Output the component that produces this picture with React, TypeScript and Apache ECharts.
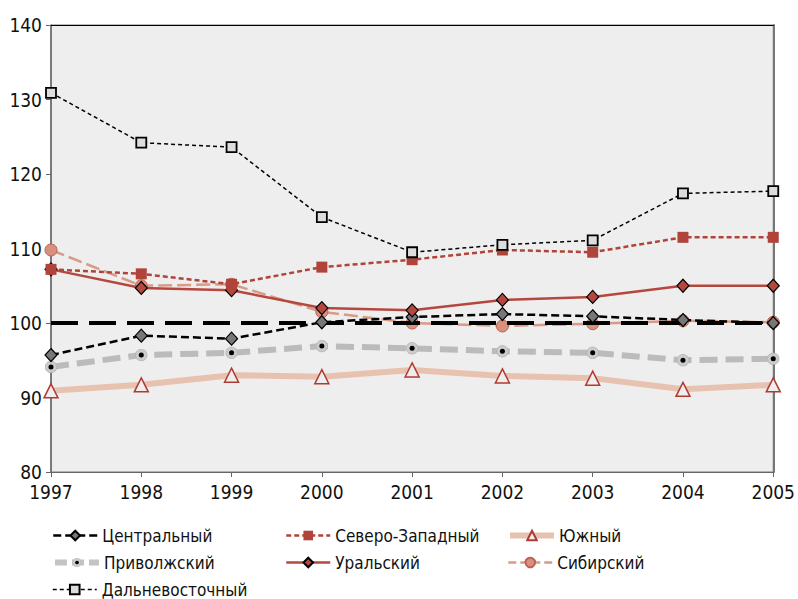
import React, { useEffect, useRef } from "react";
import * as echarts from "echarts";

const years = ["1997", "1998", "1999", "2000", "2001", "2002", "2003", "2004", "2005"];
const central = [95.7, 98.3, 97.9, 100.1, 100.8, 101.2, 100.9, 100.4, 100.0];
const northWest = [107.2, 106.6, 105.2, 107.5, 108.5, 109.8, 109.5, 111.5, 111.5];
const south = [90.9, 91.7, 93.0, 92.8, 93.7, 92.9, 92.6, 91.1, 91.7];
const volga = [94.1, 95.7, 96.0, 96.9, 96.6, 96.2, 96.0, 95.0, 95.2];
const ural = [107.2, 104.7, 104.4, 102.0, 101.7, 103.1, 103.5, 105.0, 105.0];
const siberia = [109.8, 105.0, 105.2, 101.5, 100.0, 99.6, 99.9, 100.3, 100.1];
const farEast = [130.9, 124.2, 123.6, 114.2, 109.5, 110.5, 111.1, 117.4, 117.7];
const referenceLevel = 100;

const FONT = "'Liberation Sans Narrow', 'DejaVu Sans Condensed', 'Roboto Condensed', sans-serif";

const volgaSymbol =
  "image://data:image/svg+xml;utf8," +
  encodeURIComponent(
    "<svg xmlns='http://www.w3.org/2000/svg' width='14' height='14'><circle cx='7' cy='7' r='6.3' fill='#cccccc' stroke='#b0b0b0' stroke-width='0.8'/><circle cx='7' cy='7' r='2.7' fill='#000'/></svg>"
  );

const styles: Record<string, any> = {
  "Центральный": { line: { color: "#000", width: 2.5, type: [8, 4] } },
  "Северо-Западный": { line: { color: "#b0443a", width: 2.5, type: [5, 3] } },
  "Южный": { line: { color: "#e8c2b0", width: 6, type: "solid" } },
  "Приволжский": { line: { color: "#c4c4c4", width: 6, type: [12, 5] } },
  "Уральский": { line: { color: "#b5483e", width: 2.5, type: "solid" } },
  "Сибирский": { line: { color: "#d99a88", width: 2.5, type: [8, 4] } },
  "Дальневосточный": { line: { color: "#000", width: 1.5, type: [4, 3] } },
};

// legend grid: [name, column, row]
const legendLayout: [string, number, number][] = [
  ["Центральный", 0, 0],
  ["Северо-Западный", 1, 0],
  ["Южный", 2, 0],
  ["Приволжский", 0, 1],
  ["Уральский", 1, 1],
  ["Сибирский", 2, 1],
  ["Дальневосточный", 0, 2],
];
const legendColumnsX = [52, 285, 507];
const legendRowsY = [537, 564, 591];

export default function App() {
  const ref = useRef<HTMLDivElement>(null);
  useEffect(() => {
    if (!ref.current) return;
    const chart = echarts.init(ref.current, null, { renderer: "svg" });
    const legendText = { fontFamily: FONT, fontSize: 17, color: "#111" };
    const legends = legendLayout.map(([name, c, r]) => ({
      orient: "horizontal",
      itemWidth: 44,
      itemHeight: 12,
      padding: 0,
      textStyle: legendText,
      left: legendColumnsX[c],
      top: legendRowsY[r] - 10,
      selectedMode: false,
      data: [{ name, lineStyle: styles[name].line }],
    }));
    chart.setOption({
      animation: false,
      textStyle: { fontFamily: FONT },
      grid: {
        left: 51,
        right: 19,
        top: 25,
        bottom: 127,
        show: true,
        backgroundColor: "#eeeeee",
        borderColor: "#777",
        borderWidth: 1,
      },
      legend: legends,
      xAxis: [
        {
          type: "category",
          data: years,
          boundaryGap: false,
          axisLine: { lineStyle: { color: "#666", width: 1 } },
          axisTick: { show: true, length: 5, lineStyle: { color: "#666" } },
          axisLabel: { fontFamily: FONT, fontSize: 19, color: "#111", margin: 10 },
          splitLine: { show: false },
        },
        {
          type: "category",
          data: years,
          boundaryGap: false,
          position: "top",
          axisLine: { lineStyle: { color: "#000", width: 1.2 } },
          axisTick: { show: false },
          axisLabel: { show: false },
        },
      ],
      yAxis: [
        {
          type: "value",
          min: 80,
          max: 140,
          interval: 10,
          axisLine: { show: true, lineStyle: { color: "#666", width: 1.5 } },
          axisTick: { show: true, length: 5, lineStyle: { color: "#666" } },
          axisLabel: { fontFamily: FONT, fontSize: 19, color: "#111", margin: 9 },
          splitLine: { show: false },
        },
        {
          type: "value",
          min: 80,
          max: 140,
          interval: 10,
          position: "right",
          axisLine: { show: true, lineStyle: { color: "#777", width: 2 } },
          axisTick: { show: false },
          axisLabel: { show: false },
          splitLine: { show: false },
        },
      ],
      series: [
        {
          name: "Южный",
          type: "line",
          data: south,
          lineStyle: { color: "#e8c2b0", width: 6 },
          itemStyle: { color: "#eeeeee", borderColor: "#b03a30", borderWidth: 1.5 },
          symbol: "triangle",
          symbolSize: 14,
          z: 2,
        },
        {
          name: "Приволжский",
          type: "line",
          data: volga,
          lineStyle: { color: "#bbbbbb", width: 6, type: [18, 8] },
          itemStyle: { color: "#bbbbbb" },
          symbol: volgaSymbol,
          symbolSize: 13,
          z: 3,
        },
        {
          name: "Сибирский",
          type: "line",
          data: siberia,
          lineStyle: { color: "#d99a88", width: 2.5, type: [14, 5] },
          itemStyle: { color: "#d8917f", borderColor: "#c0604f", borderWidth: 1 },
          symbol: "circle",
          symbolSize: 12,
          z: 4,
        },
        {
          name: "Центральный",
          type: "line",
          data: central,
          lineStyle: { color: "#000", width: 2.5, type: [8, 4] },
          itemStyle: { color: "#777", borderColor: "#000", borderWidth: 1.2 },
          symbol: "diamond",
          symbolSize: [12, 13],
          z: 6,
          markLine: {
            silent: true,
            symbol: "none",
            label: { show: false },
            lineStyle: { color: "#000", width: 4, type: [27, 11] },
            data: [{ yAxis: referenceLevel }],
            z: 5,
          },
        },
        {
          name: "Уральский",
          type: "line",
          data: ural,
          lineStyle: { color: "#b5483e", width: 2.5, type: "solid" },
          itemStyle: { color: "#b5483e", borderColor: "#000", borderWidth: 1.2 },
          symbol: "diamond",
          symbolSize: [12, 13],
          z: 7,
        },
        {
          name: "Северо-Западный",
          type: "line",
          data: northWest,
          lineStyle: { color: "#b0443a", width: 2.5, type: [5, 3] },
          itemStyle: { color: "#b0443a" },
          symbol: "rect",
          symbolSize: 11,
          z: 8,
        },
        {
          name: "Дальневосточный",
          type: "line",
          data: farEast,
          lineStyle: { color: "#000", width: 1.5, type: [4, 3] },
          itemStyle: { color: "#dddddd", borderColor: "#000", borderWidth: 1.8 },
          symbol: "rect",
          symbolSize: 10,
          z: 9,
        },
      ],
    });
    return () => chart.dispose();
  }, []);
  return <div ref={ref} style={{ width: 798, height: 599, position: "absolute", left: 0, top: 0 }} />;
}
